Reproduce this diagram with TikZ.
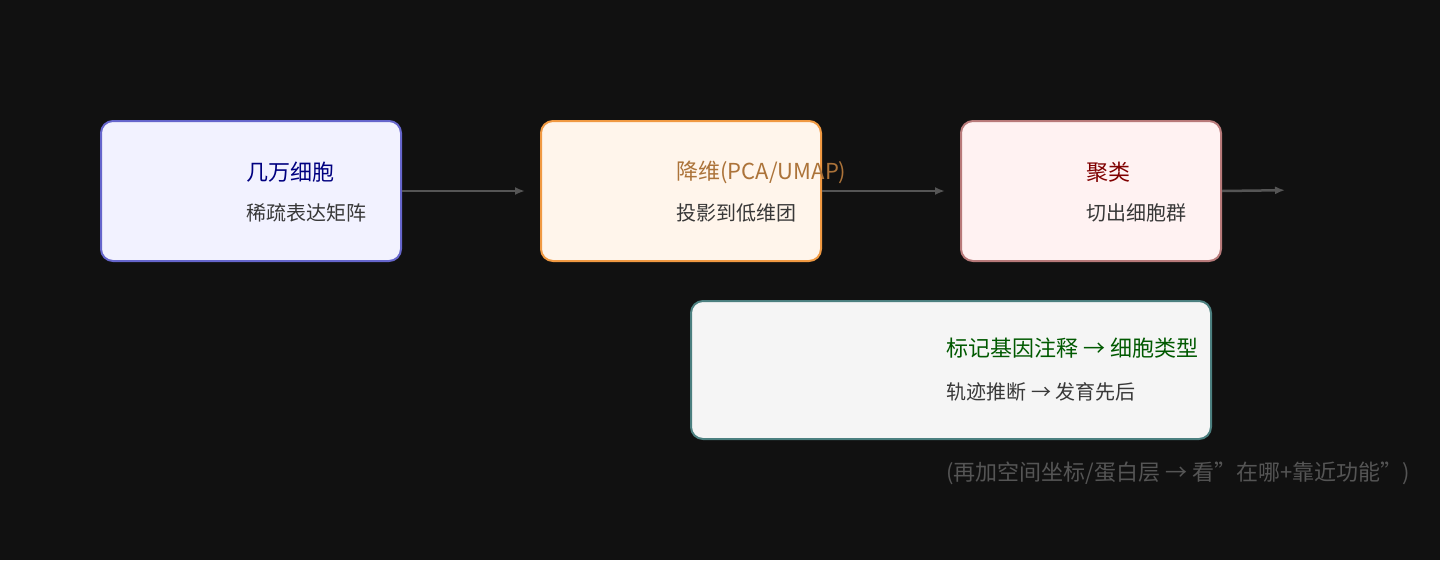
\documentclass[tikz,border=0pt]{standalone}
\usepackage{fontspec}
\setmainfont{Noto Sans CJK SC}
\usetikzlibrary{arrows.meta,positioning}
\definecolor{bgc}{HTML}{111111}
\definecolor{flowc}{HTML}{555555}
\tikzset{box/.style={draw, line width=2pt, rounded corners=12pt, anchor=north west},
  head/.style={anchor=west, font=\fontsize{22}{26}\selectfont},
  sub/.style={anchor=west, font=\fontsize{20}{24}\selectfont, text=black!78},
  flow/.style={-{Latex[length=10pt,width=8pt]}, draw=flowc, line width=2.5pt, shorten >=15pt}}
\begin{document}
\begin{tikzpicture}[x=1pt,y=-1pt]
    \fill[bgc] (0,0) rectangle (1440,560);
    \useasboundingbox (0,0) rectangle (1440,560);
    \node[box, draw=blue!50!gray!80, fill=blue!5, minimum width=300pt, minimum height=140pt] (B1) at (100,120) {};
    \node[box, draw=orange!70!brown!80, fill=orange!8, minimum width=280pt, minimum height=140pt] (B2) at (540,120) {};
    \node[box, draw=red!30!gray!80, fill=red!5, minimum width=260pt, minimum height=140pt] (B3) at (960,120) {};
    \node[box, draw=teal!40!gray, fill=gray!8, minimum width=520pt, minimum height=138pt] (B4) at (690,300) {};
    % titles and subtitles
    \node[head, text=blue!50!black] (T1) at (243,172) {几万细胞};
    \node[sub] (S1) at (243,213) {稀疏表达矩阵};
    \node[head, text=brown!90!black] (T2) at (673,172) {降维(PCA/UMAP)};
    \node[sub] (S2) at (673,213) {投影到低维团};
    \node[head, text=red!50!black] (T3) at (1083,172) {聚类};
    \node[sub] (S3) at (1083,213) {切出细胞群};
    \node[head, text=green!35!black] (T4) at (943,348) {标记基因注释 → 细胞类型};
    \node[sub] (S4) at (943,392) {轨迹推断 → 发育先后};
    \node[head, text=flowc] (N) at (943,473) {(再加空间坐标/蛋白层 → 看"在哪+靠近功能")};
    \coordinate (E) at (1300,190);
    \draw[flow] (B1.east) -- (B2.west);
    \draw[flow] (B2.east) -- (B3.west);
    \draw[flow] (B3.east) -- (E);
\end{tikzpicture}
\end{document}
